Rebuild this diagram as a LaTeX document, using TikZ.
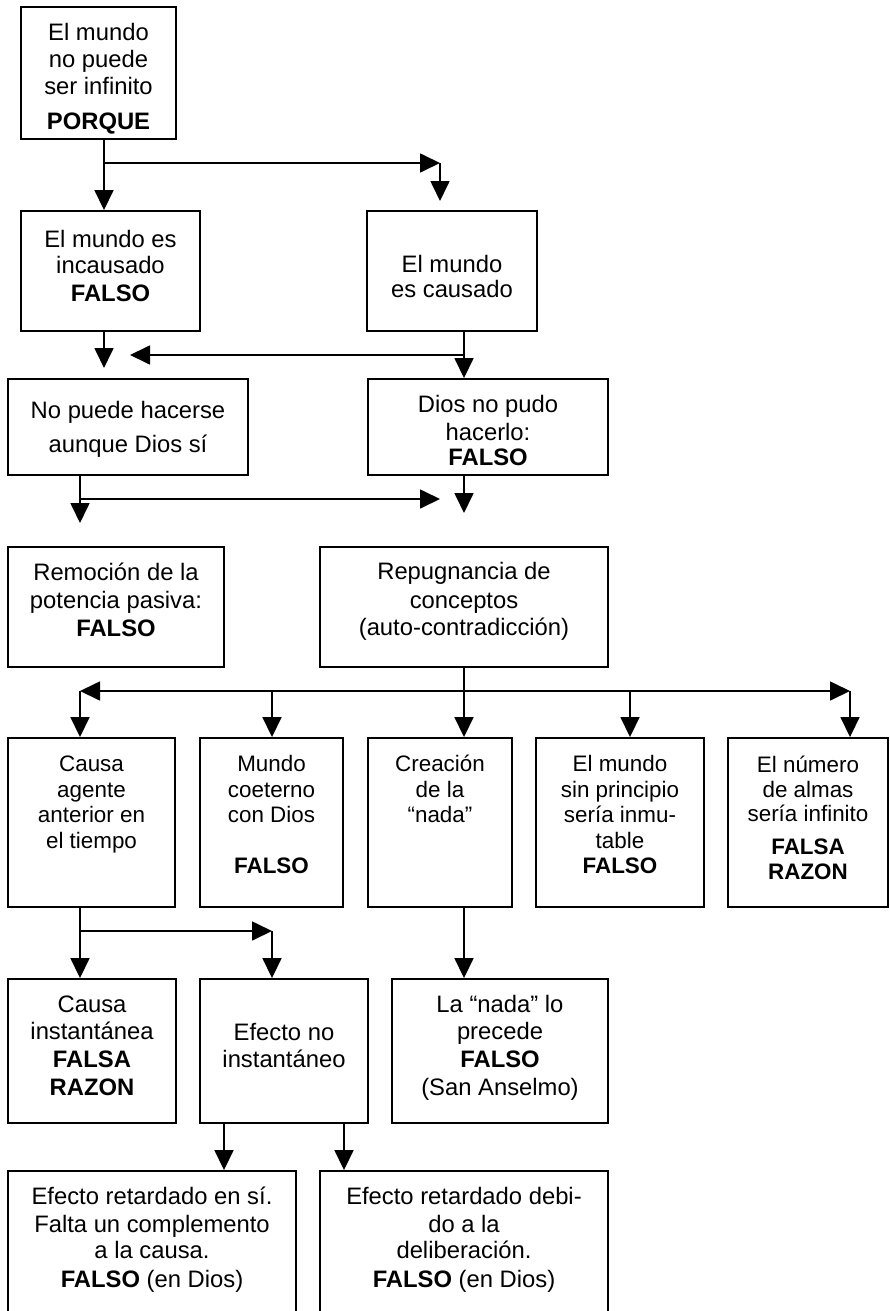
\documentclass[tikz,border=0pt]{standalone}
\usepackage{fontspec}
\setmainfont{Liberation Sans}
\usetikzlibrary{arrows.meta}
\begin{document}
\begin{tikzpicture}[x=1pt,y=-1pt,
  box/.style={draw, line width=1.9pt, inner sep=0pt, rectangle},
  arr/.style={line width=1.7pt, -{Triangle[length=20pt,width=19pt]}},
  tx/.style={anchor=base, inner sep=0pt, font=\fontsize{23.8}{28}\selectfont},
  tr/.style={anchor=base, inner sep=0pt, font=\fontsize{22.4}{26}\selectfont}]
\useasboundingbox (0,0) rectangle (890,1311);
\clip (0,0) rectangle (890,1311);
\fill[white] (0,0) rectangle (890,1311);

% ---------- boxes ----------
\node[box, minimum width=155pt, minimum height=132pt] (b1) at (98.5,73) {};
\node[box, minimum width=179pt, minimum height=120pt] (b2) at (110.5,271) {};
\node[box, minimum width=170pt, minimum height=120pt] (b3) at (452,271) {};
\node[box, minimum width=240pt, minimum height=96pt] (b4) at (128,427) {};
\node[box, minimum width=240pt, minimum height=96pt] (b5) at (488,427) {};
\node[box, minimum width=216pt, minimum height=120pt] (b6) at (116,607) {};
\node[box, minimum width=288pt, minimum height=120pt] (b7) at (464,607) {};
\node[box, minimum width=167pt, minimum height=169pt] (rA) at (91.5,822.5) {};
\node[box, minimum width=143pt, minimum height=169pt] (rB) at (271.5,822.5) {};
\node[box, minimum width=144pt, minimum height=169pt] (rC) at (440,822.5) {};
\node[box, minimum width=168pt, minimum height=169pt] (rD) at (620,822.5) {};
\node[box, minimum width=160pt, minimum height=169pt] (rE) at (808,822.5) {};
\node[box, minimum width=168pt, minimum height=144pt] (rF) at (92,1051) {};
\node[box, minimum width=168pt, minimum height=144pt] (rG) at (284,1051) {};
\node[box, minimum width=216pt, minimum height=144pt] (rH) at (500,1051) {};
\node[box, minimum width=288pt, minimum height=169pt] (rI) at (152,1255.5) {};
\node[box, minimum width=288pt, minimum height=169pt] (rJ) at (464,1255.5) {};

% ---------- texts ----------
\node[tx] (t1a) at (98.5,40.5) {El mundo};
\node[tx] (t1b) at (98.5,68) {no puede};
\node[tx] (t1c) at (98.5,95) {ser infinito};
\node[tx] (t1d) at (98.5,129) {\bfseries PORQUE};

\node[tx] (t2a) at (110.5,247) {El mundo es};
\node[tx] (t2b) at (110.5,273) {incausado};
\node[tx] (t2c) at (110.5,301) {\bfseries FALSO};

\node[tx] (t3a) at (452,272) {El mundo};
\node[tx] (t3b) at (452,297) {es causado};

\node[tx] (t4a) at (128,418) {No puede hacerse};
\node[tx] (t4b) at (128,452) {aunque Dios sí};

\node[tx] (t5a) at (488,412) {Dios no pudo};
\node[tx] (t5b) at (488,440) {hacerlo:};
\node[tx] (t5c) at (488,465) {\bfseries FALSO};

\node[tx] (t6a) at (116,580) {Remoción de la};
\node[tx] (t6b) at (116,608) {potencia pasiva:};
\node[tx] (t6c) at (116,636) {\bfseries FALSO};

\node[tx] (t7a) at (464,579) {Repugnancia de};
\node[tx] (t7b) at (464,608) {conceptos};
\node[tx] (t7c) at (464,635) {(auto-contradicción)};

\node[tr] (tAa) at (91.5,771) {Causa};
\node[tr] (tAb) at (91.5,797) {agente};
\node[tr] (tAc) at (91.5,822) {anterior en};
\node[tr] (tAd) at (91.5,848) {el tiempo};

\node[tr] (tBa) at (271.5,771) {Mundo};
\node[tr] (tBb) at (271.5,797) {coeterno};
\node[tr] (tBc) at (271.5,822) {con Dios};
\node[tr] (tBd) at (271.5,873) {\bfseries FALSO};

\node[tr] (tCa) at (440,771) {Creación};
\node[tr] (tCb) at (440,797) {de la};
\node[tr] (tCc) at (440,822) {“nada”};

\node[tr] (tDa) at (620,771) {El mundo};
\node[tr] (tDb) at (620,797) {sin principio};
\node[tr] (tDc) at (620,822) {sería inmu-};
\node[tr] (tDd) at (620,848) {table};
\node[tr] (tDe) at (620,873) {\bfseries FALSO};

\node[tr] (tEa) at (808,772) {El número};
\node[tr] (tEb) at (808,797) {de almas};
\node[tr] (tEc) at (808,821) {sería infinito};
\node[tr] (tEd) at (808,854) {\bfseries FALSA};
\node[tr] (tEe) at (808,879) {\bfseries RAZON};

\node[tx] (tFa) at (92,1012) {Causa};
\node[tx] (tFb) at (92,1039) {instantánea};
\node[tx] (tFc) at (92,1067) {\bfseries FALSA};
\node[tx] (tFd) at (92,1095) {\bfseries RAZON};

\node[tx] (tGa) at (284,1040) {Efecto no};
\node[tx] (tGb) at (284,1067) {instantáneo};

\node[tx] (tHa) at (500,1012) {La “nada” lo};
\node[tx] (tHb) at (500,1039) {precede};
\node[tx] (tHc) at (500,1067) {\bfseries FALSO};
\node[tx] (tHd) at (500,1095) {(San Anselmo)};

\node[tx] (tIa) at (152,1204) {Efecto retardado en sí.};
\node[tx] (tIb) at (152,1232) {Falta un complemento};
\node[tx] (tIc) at (152,1258) {a la causa.};
\node[tx] (tId) at (152,1287) {{\bfseries FALSO} (en Dios)};

\node[tx] (tJa) at (464,1204) {Efecto retardado debi-};
\node[tx] (tJb) at (464,1232) {do a la};
\node[tx] (tJc) at (464,1258) {deliberación.};
\node[tx] (tJd) at (464,1287) {{\bfseries FALSO} (en Dios)};

% ---------- junctions / free ends ----------
\coordinate (j1) at (104,163);
\coordinate (j2) at (440,163);
\coordinate (k3) at (440,201);
\coordinate (k4) at (104,368);
\coordinate (j5) at (464,355);
\coordinate (k6) at (130,355);
\coordinate (j7) at (80,499);
\coordinate (k7) at (80,523);
\coordinate (k8) at (440,499);
\coordinate (k9) at (464,513);
\coordinate (j10) at (464,691);
\coordinate (j11) at (80,691);
\coordinate (j12) at (850,691);
\coordinate (j13) at (272,691);
\coordinate (j14) at (630,691);
\coordinate (j15) at (80,931);
\coordinate (j16) at (272,931);
\coordinate (x18) at (224,1140);
\coordinate (x19) at (344,1140);

% ---------- connectors ----------
\draw[arr] (b1.south -| j1) -- (b2.north -| j1);
\draw[arr] (j1) -- (j2);
\draw[arr] (j2) -- (k3);
\draw[arr] (b2.south -| k4) -- (k4);
\draw[arr] (b3.south -| j5) -- (b5.north -| j5);
\draw[arr] (j5) -- (k6);
\draw[arr] (b4.south -| j7) -- (k7);
\draw[arr] (j7) -- (k8);
\draw[arr] (b5.south -| k9) -- (k9);

\draw[arr] (b7.south) -- (rC.north -| b7.south);
\draw[arr] (j10) -- (j11);
\draw[arr] (j11) -- (rA.north -| j11);
\draw[arr] (j10) -- (j12);
\draw[arr] (j12) -- (rE.north -| j12);
\draw[arr] (j13) -- (rB.north -| j13);
\draw[arr] (j14) -- (rD.north -| j14);

\draw[arr] (rA.south -| j15) -- (rF.north -| j15);
\draw[arr] (j15) -- (j16);
\draw[arr] (j16) -- (rG.north -| j16);
\draw[arr] (rC.south -| j10) -- (rH.north -| j10);
\draw[arr] (rG.south -| x18) -- (rI.north -| x18);
\draw[arr] (rG.south -| x19) -- (rJ.north -| x19);
\end{tikzpicture}
\end{document}
